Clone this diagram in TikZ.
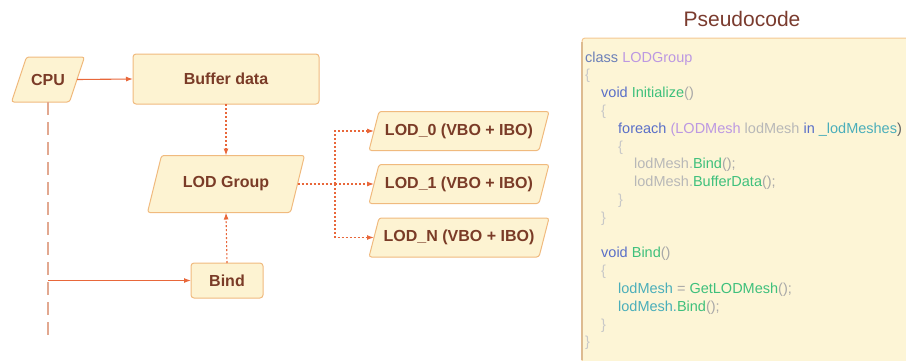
\documentclass[tikz,border=0pt]{standalone}
\usepackage{fontspec}
\setmainfont{Liberation Sans}
\usetikzlibrary{arrows.meta,backgrounds,calc}
\definecolor{boxfill}{HTML}{FDF3D2}
\definecolor{boxline}{HTML}{F0BA7E}
\definecolor{txt}{HTML}{7A3B27}
\definecolor{conn}{HTML}{E8673A}
\definecolor{cpuline}{HTML}{E2A890}
\definecolor{codefill}{HTML}{FDF5D6}
\definecolor{codeline}{HTML}{F5C892}
\definecolor{codeleft}{HTML}{DDBB90}
\definecolor{titlecol}{HTML}{7A3B2E}
\definecolor{cclass}{HTML}{6B7FB8}
\definecolor{ctype}{HTML}{BC98E2}
\definecolor{cbr}{HTML}{C8C8C8}
\definecolor{ckw}{HTML}{5A6FC8}
\definecolor{cfn}{HTML}{3EC07C}
\definecolor{cpar}{HTML}{A8A8A8}
\definecolor{cvar}{HTML}{B8B8B8}
\definecolor{cteal}{HTML}{4AAEBA}
\definecolor{cdark}{HTML}{606060}
\tikzset{
  lbl/.style={rectangle, inner sep=0pt, outer sep=0pt, text=txt, font=\fontsize{16}{19}\selectfont\bfseries},
  rectbox/.style={lbl, draw=boxline, fill=boxfill, line width=1pt, rounded corners=3pt},
  shapebox/.style={draw=boxline, fill=boxfill, line width=1pt, rounded corners=2.5pt},
  solidarrow/.style={draw=conn, line width=1.1pt, -{Latex[length=7pt,width=5pt]}},
  dotline/.style={draw=conn, line width=1.1pt, dash pattern=on 2pt off 2pt},
  dotarrow/.style={dotline, -{Latex[length=7pt,width=5pt]}},
  cpudash/.style={draw=cpuline, line width=1.4pt, dash pattern=on 13pt off 7pt},
  code/.style={anchor=base west, inner sep=0pt, font=\fontsize{14.5}{17}\selectfont},
}
\begin{document}
\begin{tikzpicture}[x=1pt,y=-1pt]
\useasboundingbox (0,0) rectangle (906,360);
\clip (0,0) rectangle (906,360);

% flowchart nodes
\node[lbl, minimum width=58pt, minimum height=45pt] (cpu) at (48,79.5) {CPU};
\node[rectbox, minimum width=186pt, minimum height=50pt] (buf) at (226,79) {Buffer data};
\node[lbl, minimum width=143pt, minimum height=57pt] (grp) at (226,184) {LOD Group};
\node[rectbox, minimum width=72pt, minimum height=35pt] (bind) at (227,280.5) {Bind};
\node[lbl, minimum width=170pt, minimum height=39pt] (lod0) at (459,131) {LOD\_0 (VBO + IBO)};
\node[lbl, minimum width=170pt, minimum height=39pt] (lod1) at (459,184) {LOD\_1 (VBO + IBO)};
\node[lbl, minimum width=170pt, minimum height=39pt] (lodN) at (459,237.5) {LOD\_N (VBO + IBO)};

\begin{scope}[on background layer]
  \foreach \n/\s in {cpu/7.5, grp/7, lod0/5, lod1/5, lodN/5} {
    \draw[shapebox] ($(\n.south west)+(-\s,0)$) -- ($(\n.north west)+(\s,0)$)
      -- ($(\n.north east)+(\s,0)$) -- ($(\n.south east)+(-\s,0)$) -- cycle;
  }
\end{scope}

% connectors
\coordinate (cpuend) at (48,335);
\coordinate (tap) at (48,280.5);
\coordinate (br) at (335,184);
\draw[cpudash] (cpu.south) -- (cpuend);
\draw[solidarrow] (cpu.east) -- (buf.west);
\draw[solidarrow] (tap) -- (bind.west);
\draw[dotarrow] (buf.south) -- (grp.north);
\draw[dotarrow] (bind.north) -- (grp.south);
\draw[dotline] (grp.east) -- (br);
\draw[dotarrow] (br) |- (lod0.west);
\draw[dotarrow] (br) -- (lod1.west);
\draw[dotarrow] (br) |- (lodN.west);

% pseudocode panel
\node[anchor=base, text=titlecol, font=\fontsize{21}{24}\selectfont, inner sep=0pt] (title) at (742,26) {Pseudocode};
\path[fill=codefill, draw=codeline, line width=1pt, rounded corners=3pt] (582,38) rectangle (930,380);
\draw[codeleft, line width=1.2pt] (582,42) -- (582,360);

\node[code] (c0) at (585,62) {\textcolor{cclass}{class} \textcolor{ctype}{LODGroup}};
\node[code] (c1) at (585,79.8) {\textcolor{cbr}{\{}};
\node[code] (c2) at (601,97.6) {\textcolor{ckw}{void} \textcolor{cfn}{Initialize}\textcolor{cpar}{()}};
\node[code] (c3) at (601,115.4) {\textcolor{cbr}{\{}};
\node[code] (c4) at (618,133.2) {\textcolor{ckw}{foreach} \textcolor{ctype}{(LODMesh} \textcolor{cvar}{lodMesh} \textcolor{ckw}{in} \textcolor{cteal}{\_lodMeshes}\textcolor{cdark}{)}};
\node[code] (c5) at (618,151) {\textcolor{cbr}{\{}};
\node[code] (c6) at (634,168.8) {\textcolor{cvar}{lodMesh.}\textcolor{cfn}{Bind}\textcolor{cpar}{();}};
\node[code] (c7) at (634,186.6) {\textcolor{cvar}{lodMesh.}\textcolor{cfn}{BufferData}\textcolor{cpar}{();}};
\node[code] (c8) at (618,204.4) {\textcolor{cbr}{\}}};
\node[code] (c9) at (601,222.2) {\textcolor{cbr}{\}}};
\node[code] (c11) at (601,257.8) {\textcolor{ckw}{void} \textcolor{cfn}{Bind}\textcolor{cpar}{()}};
\node[code] (c12) at (601,275.6) {\textcolor{cbr}{\{}};
\node[code] (c13) at (618,293.4) {\textcolor{cteal}{lodMesh} \textcolor{cpar}{=} \textcolor{cfn}{GetLODMesh}\textcolor{cpar}{();}};
\node[code] (c14) at (618,311.2) {\textcolor{cteal}{lodMesh.}\textcolor{cfn}{Bind}\textcolor{cpar}{();}};
\node[code] (c15) at (601,329) {\textcolor{cbr}{\}}};
\node[code] (c16) at (585,346.8) {\textcolor{cbr}{\}}};
\end{tikzpicture}
\end{document}
